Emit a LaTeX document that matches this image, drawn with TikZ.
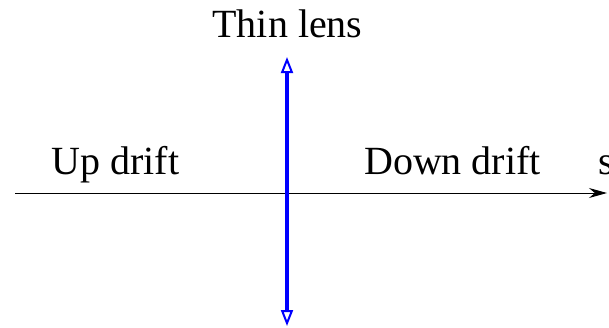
\documentclass[tikz,border=0pt]{standalone}
\usepackage{fontspec}
\setmainfont{Liberation Serif}
\usetikzlibrary{arrows.meta, positioning}

\begin{document}
\begin{tikzpicture}[x=0.5pt, y=-0.5pt, >=Stealth, font=\fontsize{20}{24}\selectfont, lbl/.style={inner sep=0pt, anchor=base}, lens/.style={draw=blue, line width=2pt, {Triangle[open, length=8pt, width=6pt, line width=1pt]}-{Triangle[open, length=8pt, width=6pt, line width=1pt]}}]
\useasboundingbox (0,0) rectangle (609,327);
\coordinate (axisL) at (15,193);
\coordinate (axisR) at (607,193);
\coordinate (lensT) at (287,57);
\coordinate (lensB) at (287,326);
\draw[->, line width=0.5pt, >={Stealth[length=9pt, width=5pt]}] (axisL) -- (axisR);
\draw[lens] (lensB) -- (lensT);
\node[lbl] (thin) at (287.5,37) {Thin lens};
\node[lbl] (up) at (115.5,174) {Up drift};
\node[lbl] (down) at (452.5,174) {Down drift};
\node[lbl, anchor=base west] (s) at (598,174) {s};
\end{tikzpicture}
\end{document}
